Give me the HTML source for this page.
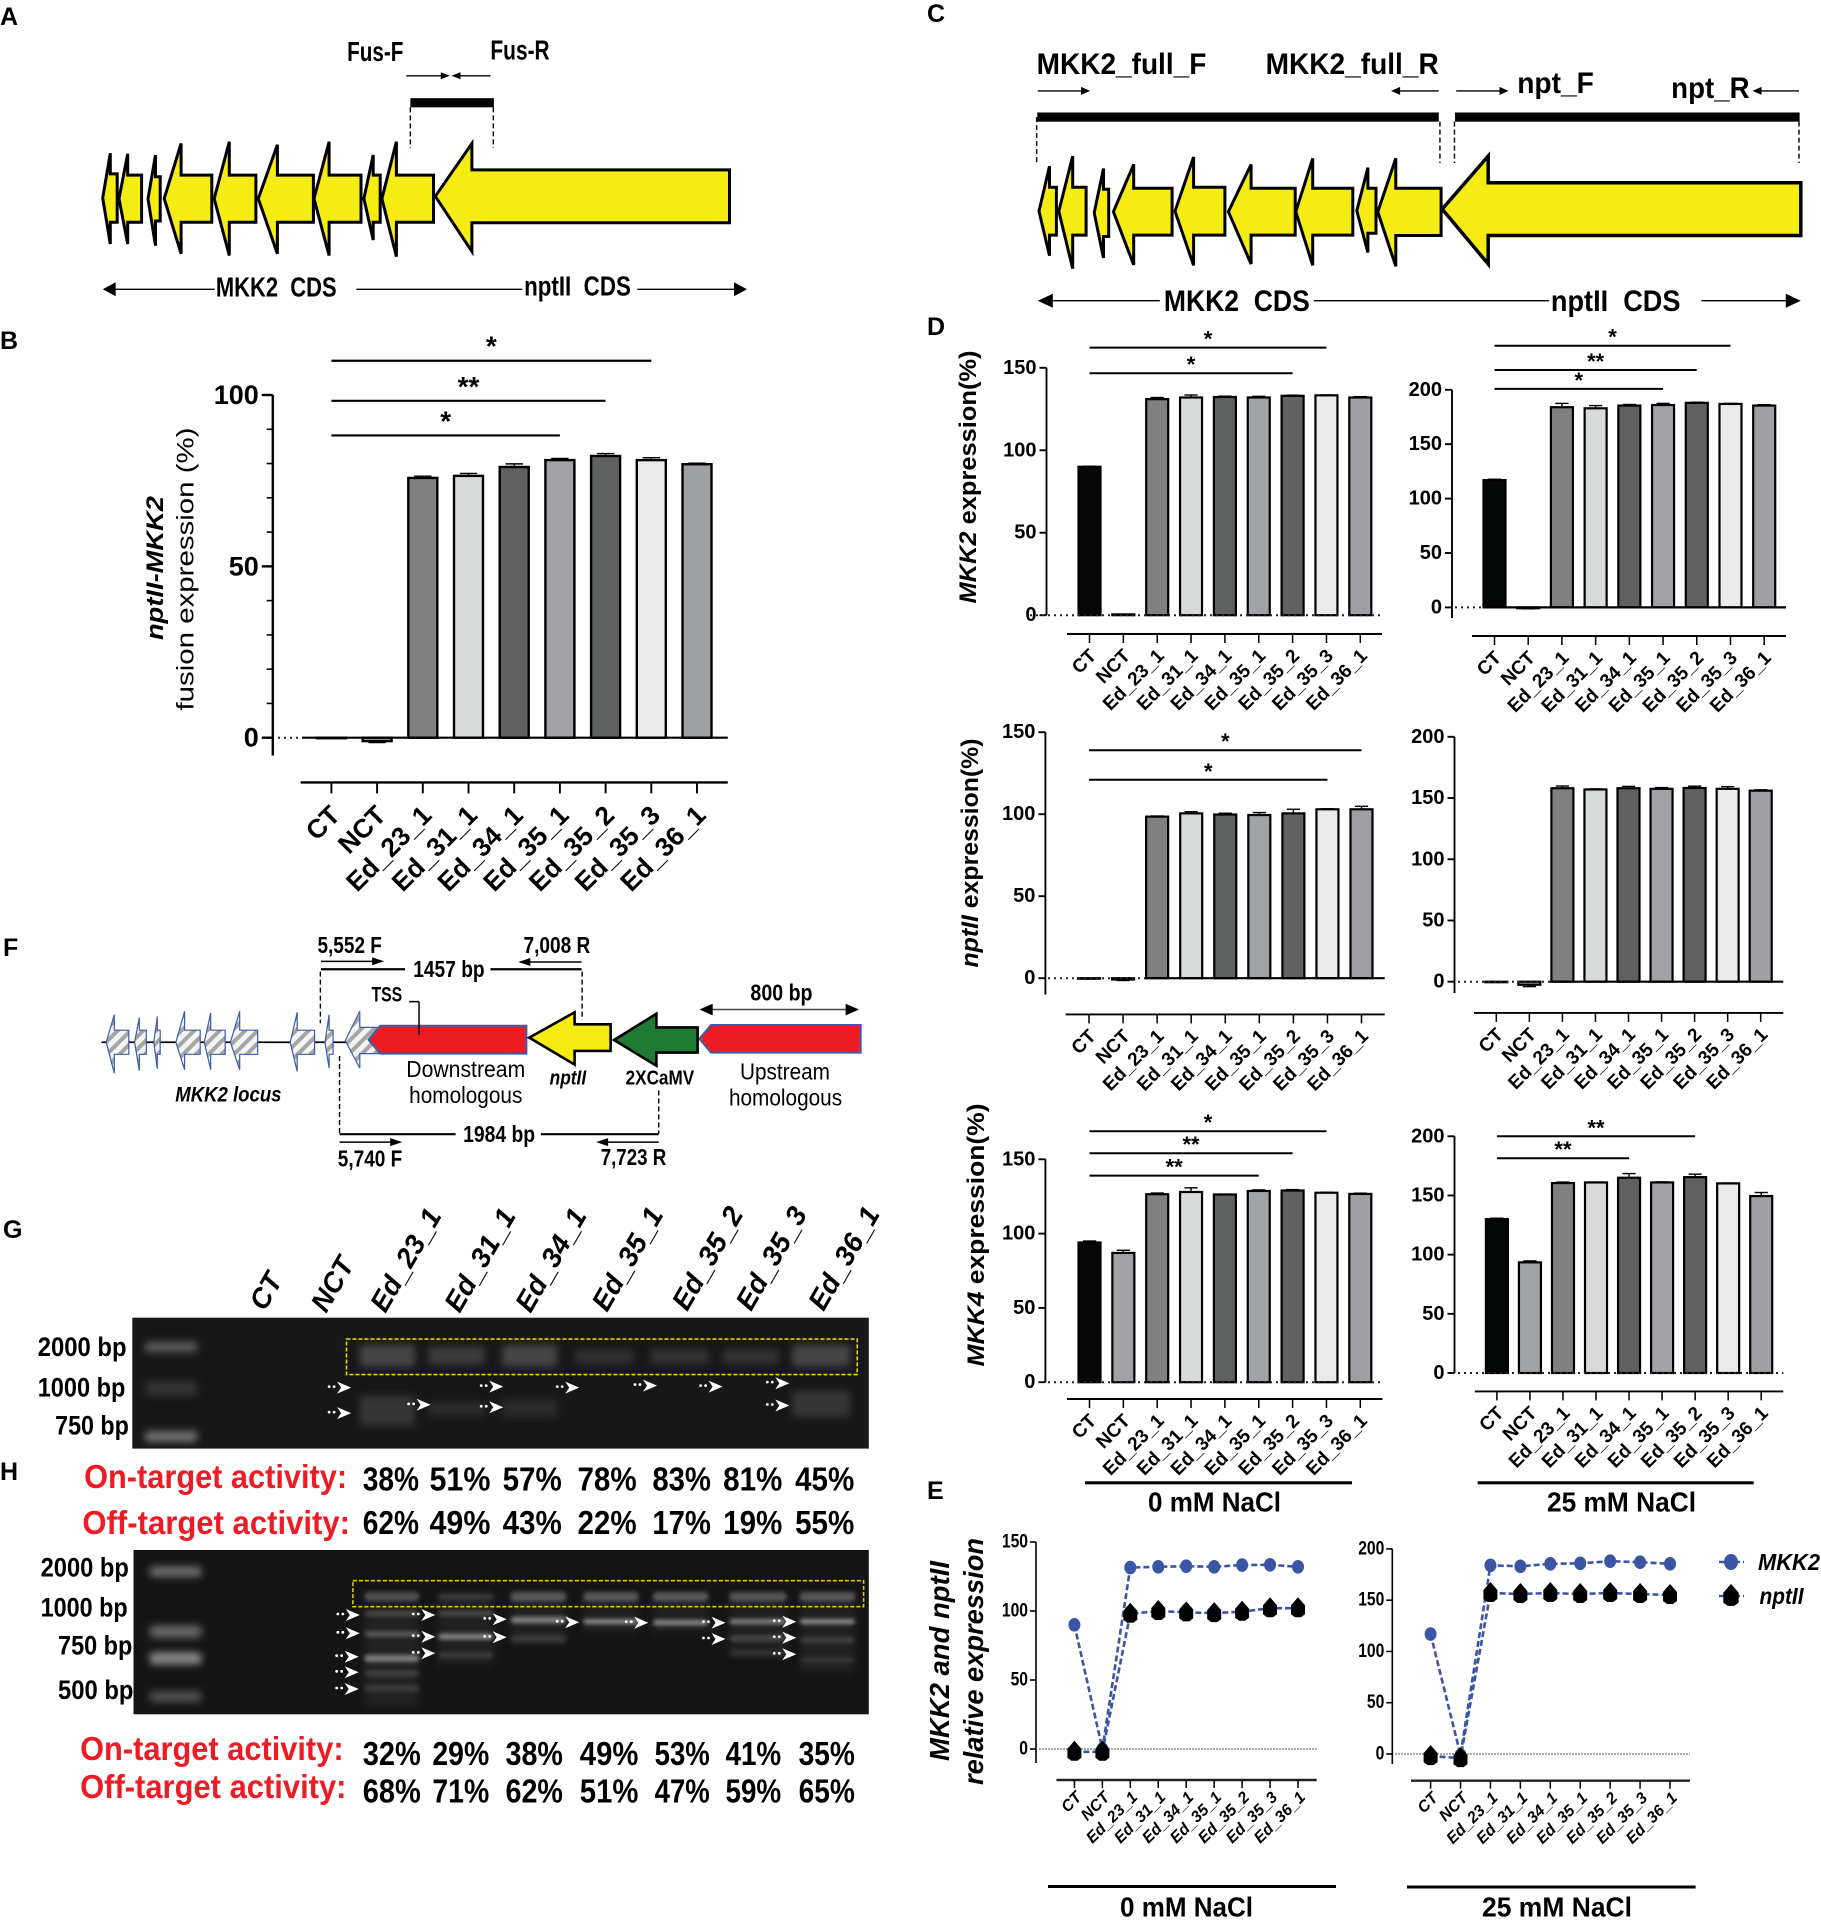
<!DOCTYPE html>
<html>
<head>
<meta charset="utf-8">
<title>Figure panels A-H</title>
<style>
html,body{margin:0;padding:0;background:#fff;}
svg{display:block;width:1821px;height:1920px;overflow:hidden;font-family:"Liberation Sans",Arial,sans-serif;}
text{white-space:pre;}
</style>
</head>
<body>
<svg id="figure" xmlns="http://www.w3.org/2000/svg" width="1821" height="1920" viewBox="0 0 1821 1920">
<defs>
<pattern id="hatch" patternUnits="userSpaceOnUse" width="9" height="9" patternTransform="rotate(45)">
<rect width="9" height="9" fill="#f4f4f4"></rect>
<rect width="4" height="9" fill="#a5a5a5"></rect>
</pattern>
<filter id="blur3" x="-30%" y="-150%" width="160%" height="400%"><feGaussianBlur stdDeviation="4"></feGaussianBlur></filter>
<filter id="blur2" x="-30%" y="-200%" width="160%" height="500%"><feGaussianBlur stdDeviation="2"></feGaussianBlur></filter>
</defs>
<rect x="0" y="0" width="1821" height="1920" fill="#ffffff"></rect>
</svg>
<script>
/* ---------- chart data ---------- */
const categories = ['CT','NCT','Ed_23_1','Ed_31_1','Ed_34_1','Ed_35_1','Ed_35_2','Ed_35_3','Ed_36_1'];
const barFills = ['#050707','#a0a2a5','#808080','#d8dad9','#5f6160','#a0a2a5','#606261','#e9eae9','#9ea0a3'];

const ticksB = [0,50,100];
const valuesB = [0,-1,75.8,76.4,79,81,82.2,81,79.8];
const errorsB = [0.1,0.4,0.5,0.7,0.9,0.5,0.7,0.7,0.3];
const sigEndB = [7,6,5];
const sigLevelB = [110,98.3,88.2];
const sigMarkB = ['*','**','*'];

const ticks150 = [0,50,100,150];
const ticks200 = [0,50,100,150,200];

const valuesMkk2Salt0 = [90,0.5,131,132,132.3,132,133,133.3,132];
const errorsMkk2Salt0 = [0.3,0,1,1.5,0.5,0.7,0.4,0.2,0.5];
const sigEndMkk2Salt0 = [7,6];
const sigLevelMkk2Salt0 = [162.2,146.7];
const sigMarkMkk2Salt0 = ['*','*'];

const valuesMkk2Salt25 = [117,-0.8,184,183,185.5,186,188,187,185.5];
const errorsMkk2Salt25 = [0.8,0.5,3.5,2.5,1,1.5,0.6,0.5,0.8];
const sigEndMkk2Salt25 = [7,6,5];
const sigLevelMkk2Salt25 = [240.5,218.2,200.8];
const sigMarkMkk2Salt25 = ['*','**','*'];

const valuesNptSalt0 = [-0.2,-0.8,98.5,100.5,99.8,99.5,100.5,103,103];
const errorsNptSalt0 = [0.3,0.6,0.4,1,0.8,1.5,2.5,0.3,1.8];
const sigEndNptSalt0 = [8,7];
const sigLevelNptSalt0 = [139,121];
const sigMarkNptSalt0 = ['*','*'];

const valuesNptSalt25 = [-0.3,-2.5,158,157,158,157.5,158.2,157.5,156];
const errorsNptSalt25 = [0.3,1.5,1.8,0.5,1.5,1,1.5,1.8,0.7];
const sigEndNptSalt25 = [];
const sigLevelNptSalt25 = [];
const sigMarkNptSalt25 = [];

const valuesMkk4Salt0 = [94,87,126.5,128,126.3,128.7,129,127.5,126.7];
const errorsMkk4Salt0 = [1,1.8,0.8,2.8,0.3,0.7,0.6,0.3,0.5];
const sigEndMkk4Salt0 = [7,6,5];
const sigLevelMkk4Salt0 = [168.9,154.1,139];
const sigMarkMkk4Salt0 = ['*','**','**'];

const valuesMkk4Salt25 = [130,93.5,160.5,161,165,161,165.5,160.2,149.5];
const errorsMkk4Salt25 = [0.8,1.2,0.8,0.3,3.5,0.5,2.5,0.3,3];
const sigEndMkk4Salt25 = [6,4];
const sigLevelMkk4Salt25 = [200,181.5];
const sigMarkMkk4Salt25 = ['**','**'];

const lineMkk2Salt0 = [90,0,131.5,132,132.5,132,133.3,133.5,132];
const lineNptSalt0 = [-2,-2,98,100,99,98.5,99.5,102,102];
const lineMkk2Salt25 = [117,-1,184,183,185.5,186,188,187,185.5];
const lineNptSalt25 = [-2,-4,157,156,157,156,157,156,155];

const onTargetG = ['38%','51%','57%','78%','83%','81%','45%'];
const offTargetG = ['62%','49%','43%','22%','17%','19%','55%'];
const onTargetH = ['32%','29%','38%','49%','53%','41%','35%'];
const offTargetH = ['68%','71%','62%','51%','47%','59%','65%'];

/* ---------- primitives ---------- */
const svg = document.getElementById('figure');
const NS = 'http://www.w3.org/2000/svg';
const Z1 = {ox:0,oy:0,fx:1.723,fy:1.742};
const Z2 = {ox:910,oy:0,fx:1.721,fy:2.178};
const Z4 = {ox:910,oy:1480,fx:1.721,fy:3.02};
const Z5 = {ox:0,oy:920,fx:1.723,fy:2.904};
const Z6 = {ox:0,oy:1440,fx:1.723,fy:3.0};
const zx = (Z,x) => Z.ox + x / Z.fx;
const zy = (Z,y) => Z.oy + y / Z.fy;

function shape(tag, attrs, name) {
  const el = document.createElementNS(NS, tag);
  for (const k in attrs) el.setAttribute(k, attrs[k]);
  
  
  svg.appendChild(el);
  return el;
}
function line(x1,y1,x2,y2,stroke,width,name,dash) {
  const a = {x1:x1,y1:y1,x2:x2,y2:y2,stroke:stroke,'stroke-width':width};
  if (dash) a['stroke-dasharray'] = dash;
  return shape('line', a, name);
}
function poly(points, fill, stroke, width, name) {
  const a = {points:points.map(p => p[0].toFixed(1)+','+p[1].toFixed(1)).join(' '), fill:fill};
  if (stroke) { a.stroke = stroke; a['stroke-width'] = width; a['stroke-linejoin'] = 'miter'; a['stroke-miterlimit'] = 4; }
  return shape('polygon', a, name);
}
function label(x,y,parts,o,name) {
  const a = {x:x,y:y,'font-size':o.size,'font-weight':o.weight||'bold',fill:o.fill||'#000','text-anchor':o.anchor||'start'};
  if (!o.base) a['dominant-baseline'] = 'central';
  if (o.len) { a.textLength = o.len; a.lengthAdjust = 'spacingAndGlyphs'; }
  if (o.rotate) a.transform = 'rotate('+o.rotate+' '+x+' '+y+')';
  if (o.italic) a['font-style'] = 'italic';
  const el = shape('text', a, name);
  if (typeof parts === 'string') { el.textContent = parts; }
  else parts.forEach(function(p) {
    const t = document.createElementNS(NS,'tspan');
    if (p[1]) t.setAttribute('font-style','italic');
    t.textContent = p[0];
    el.appendChild(t);
  });
  return el;
}
/* text fitted between two zoom-space x positions */
function zt(Z,x0,x1,yc,str,size,name,o) {
  const opt = Object.assign({size:size,len:(x1-x0)/Z.fx}, o||{});
  return label(zx(Z,x0), zy(Z,yc), str, opt, name);
}
function panelLetter(ch,x,yc) {
  return label(x,yc,ch,{size:25},'panel-label-'+ch.toLowerCase());
}
function gene(Z,tip,sh,end,bt,bb,ht,hb,fill,stroke,w,name) {
  const mid = (bt+bb)/2;
  const pts = [[tip,mid],[sh,ht],[sh,bt],[end,bt],[end,bb],[sh,bb],[sh,hb]].map(p => [zx(Z,p[0]),zy(Z,p[1])]);
  return poly(pts,fill,stroke,w,name);
}
function zArrow(Z,x1,x2,y,headL,headH,w,name,col) {
  const yy = zy(Z,y), a = zx(Z,x1), b = zx(Z,x2), d = b > a ? 1 : -1;
  line(a,yy,b - d*headL*0.6,yy,col||'#000',w,name+'-shaft');
  poly([[b,yy],[b-d*headL,yy-headH],[b-d*headL,yy+headH]],'#000',null,0,name+'-head');
}
function zRect(Z,x0,x1,y0,y1,fill,name) {
  return shape('rect',{x:zx(Z,x0),y:zy(Z,y0),width:(x1-x0)/Z.fx,height:(y1-y0)/Z.fy,fill:fill},name);
}
function zDash(Z,x,y0,y1,name,w) {
  return line(zx(Z,x),zy(Z,y0),zx(Z,x),zy(Z,y1),'#000',w||1.4,name,'5 3');
}

/* ---------- panels A and C: gene diagrams ---------- */
const YEL = '#f5ec13';
panelLetter('A',0,17);
zt(Z1,598,695,90,'Fus-F',28,'primer-label-fus-f');
zt(Z1,845,947,87,'Fus-R',28,'primer-label-fus-r');
zArrow(Z1,700,775,132,9,3.5,1.4,'primer-arrow-fus-f');
zArrow(Z1,845,778,132,9,3.5,1.4,'primer-arrow-fus-r');
zRect(Z1,707,851,171,187,'#000','amplicon-bar-a');
zDash(Z1,707,187,258,'amplicon-left-guide');
zDash(Z1,850,187,258,'amplicon-right-guide');
gene(Z1,177,190,202,303,387,267,425,YEL,'#000',3,'mkk2-exon-1');
gene(Z1,205,220,244,305,387,268,425,YEL,'#000',3,'mkk2-exon-2');
gene(Z1,255,268,276,308,385,270,428,YEL,'#000',3,'mkk2-exon-3');
gene(Z1,283,312,365,305,387,250,442,YEL,'#000',3,'mkk2-exon-4');
gene(Z1,369,395,441,305,387,247,445,YEL,'#000',3,'mkk2-exon-5');
gene(Z1,445,478,540,305,387,252,442,YEL,'#000',3,'mkk2-exon-6');
gene(Z1,541,567,622,305,387,247,445,YEL,'#000',3,'mkk2-exon-7');
gene(Z1,627,643,655,305,387,270,418,YEL,'#000',3,'mkk2-exon-8');
gene(Z1,658,683,747,305,387,247,447,YEL,'#000',3,'mkk2-exon-9');
gene(Z1,750,813,1257,296,388,250,438,YEL,'#000',3,'nptii-cds-arrow');
zArrow(Z1,370,177,504,13,7,1.3,'mkk2-cds-span');
zt(Z1,372,580,500,'MKK2  CDS',28,'mkk2-cds-label');
line(zx(Z1,614),zy(Z1,504),zx(Z1,900),zy(Z1,504),'#000',1.3,'cds-connector');
zt(Z1,903,1087,498,'nptII  CDS',28,'nptii-cds-label');
zArrow(Z1,1098,1287,504,13,7,1.3,'nptii-cds-span');

panelLetter('B',0,341);
panelLetter('C',927,14);
zt(Z2,218,510,140,'MKK2_full_F',30,'primer-label-mkk2-full-f');
zt(Z2,612,910,140,'MKK2_full_R',30,'primer-label-mkk2-full-r');
zt(Z2,1045,1177,182,'npt_F',30,'primer-label-npt-f');
zt(Z2,1310,1445,193,'npt_R',30,'primer-label-npt-r');
zArrow(Z2,220,310,198,9,4,1.4,'primer-arrow-mkk2-f');
zArrow(Z2,910,828,198,9,4,1.4,'primer-arrow-mkk2-r');
zArrow(Z2,940,1030,198,9,4,1.4,'primer-arrow-npt-f');
zArrow(Z2,1530,1450,198,9,4,1.4,'primer-arrow-npt-r');
zRect(Z2,219,910,245,265,'#000','amplicon-bar-mkk2');
zRect(Z2,938,1531,245,265,'#000','amplicon-bar-npt');
zDash(Z2,218,255,355,'guide-mkk2-left');
zDash(Z2,912,265,355,'guide-mkk2-right');
zDash(Z2,937,265,355,'guide-npt-left');
zDash(Z2,1530,265,355,'guide-npt-right');
gene(Z2,222,240,252,408,512,362,557,YEL,'#000',3,'mkk2-exon-1');
gene(Z2,256,280,303,408,512,340,585,YEL,'#000',3,'mkk2-exon-2');
gene(Z2,317,333,342,412,515,367,562,YEL,'#000',3,'mkk2-exon-3');
gene(Z2,350,385,451,410,512,358,577,YEL,'#000',3,'mkk2-exon-4');
gene(Z2,456,488,542,408,512,342,578,YEL,'#000',3,'mkk2-exon-5');
gene(Z2,548,587,663,410,512,358,575,YEL,'#000',3,'mkk2-exon-6');
gene(Z2,664,693,762,410,512,345,578,YEL,'#000',3,'mkk2-exon-7');
gene(Z2,769,788,802,410,508,365,550,YEL,'#000',3,'mkk2-exon-8');
gene(Z2,805,836,914,410,513,345,580,YEL,'#000',3,'mkk2-exon-9');
gene(Z2,916,995,1533,398,513,340,575,YEL,'#000',3.5,'nptii-cds-arrow');
zArrow(Z2,430,220,655,15,7,1.4,'mkk2-cds-span');
zt(Z2,437,688,657,'MKK2  CDS',30,'mkk2-cds-label');
line(zx(Z2,695),zy(Z2,655),zx(Z2,1100),zy(Z2,655),'#000',1.4,'cds-connector');
zt(Z2,1103,1326,657,'nptII  CDS',30,'nptii-cds-label');
zArrow(Z2,1362,1533,655,15,7,1.4,'nptii-cds-span');
panelLetter('D',927,327);
panelLetter('E',927,1491);

/* ---------- bar charts ---------- */
function drawBarChart(c, values, errors, ticks, sigEnd, sigLevel, sigMark) {
  const n = categories.length;
  const xScale = i => c.x0 + i * (c.xN - c.x0) / (n - 1);
  const yScale = v => c.yZero - v * (c.yZero - c.yTop) / c.vTop;
  const P = c.name;
  line(c.axisX, c.yTop, c.axisX, c.axisBottom, '#000', c.axisW, P+'-y-axis');
  ticks.forEach(function(t) {
    line(c.axisX - c.tickL, yScale(t), c.axisX, yScale(t), '#000', c.axisW, P+'-y-tick-'+t);
    label(c.axisX - c.tickL - 3, yScale(t), String(t), {size:c.tickSize,anchor:'end'}, P+'-y-tick-label-'+t);
  });
  if (c.minor) {
    for (let v = 0; v <= c.vTop; v += c.minor) {
      if (ticks.indexOf(v) < 0) line(c.axisX - c.tickL*0.55, yScale(v), c.axisX, yScale(v), '#000', 1.6, P+'-y-minor-tick');
    }
  }
  values.forEach(function(v,i) {
    const x = xScale(i), top = yScale(Math.max(v,0)), bot = yScale(Math.min(v,0));
    const tip = v >= 0 ? yScale(v + errors[i]) : yScale(v - errors[i]);
    line(x, tip, x, v >= 0 ? top : bot, '#000', 1.4, P+'-error-bar-'+categories[i]);
    line(x - c.barW*0.3, tip, x + c.barW*0.3, tip, '#000', 1.4, P+'-error-cap-'+categories[i]);
    shape('rect',{x:x-c.barW/2,y:top,width:c.barW,height:Math.max(bot-top,0.5),fill:barFills[i],stroke:'#000','stroke-width':c.barStroke},P+'-bar-'+categories[i]);
  });
  const zy0 = yScale(0);
  if (c.solidFrom) {
    line(c.zeroL, zy0, c.solidFrom, zy0, '#222', 2, P+'-zero-dotted', '2 4');
    line(c.solidFrom, zy0, c.xAxisR, zy0, '#000', 2.2, P+'-zero-line');
  } else {
    line(c.zeroL, zy0, c.xAxisR, zy0, '#222', 2, P+'-zero-dotted', '2 4');
  }
  line(c.xAxisL, c.xAxisY, c.xAxisR, c.xAxisY, '#000', c.axisW, P+'-x-axis');
  categories.forEach(function(cat,i) {
    const x = xScale(i);
    line(x, c.xAxisY, x, c.xAxisY + c.xTick, '#000', c.axisW*0.8, P+'-x-tick-'+cat);
    const lx = x + c.labelDx, ly = c.xAxisY + c.labelDy;
    label(lx, ly, cat, {size:c.labelSize,anchor:'end',rotate:-45}, P+'-x-label-'+cat);
  });
  sigEnd.forEach(function(e,k) {
    const ly = yScale(sigLevel[k]);
    line(xScale(0), ly, xScale(e), ly, '#000', c.sigW, P+'-significance-line-'+k);
    label((xScale(0)+xScale(e))/2, ly - c.starLift, sigMark[k], {size:c.starSize,anchor:'middle',base:true}, P+'-significance-mark-'+k);
  });
}

drawBarChart({name:'fusion-chart',axisX:272.8,yTop:395,yZero:737.7,vTop:100,axisBottom:755.5,axisW:2.4,tickL:11,tickSize:27,minor:10,
  barW:29,barStroke:2.4,x0:331.4,xN:697,xAxisL:300.6,xAxisR:727.8,xAxisY:782.4,xTick:11,labelSize:26.5,labelDx:4,labelDy:28,
  zeroL:278,solidFrom:302,sigW:2.2,starSize:28,starLift:5},valuesB,errorsB,ticksB,sigEndB,sigLevelB,sigMarkB);
label(155,568,[['nptII-MKK2',1]],{size:24,anchor:'middle',rotate:-90,len:144},'y-axis-title-fusion-gene');
label(186,569,'fusion expression (%)',{size:24,weight:'normal',anchor:'middle',rotate:-90,len:283},'y-axis-title-fusion');

const dBase = {axisW:1.9,tickL:7,tickSize:20,barW:22,barStroke:2.2,xTick:9,labelSize:19,labelDx:4,labelDy:19,sigW:2,starSize:22,starLift:1};

drawBarChart(Object.assign({},dBase,{name:'mkk2-0mM-chart',axisX:1046.5,yTop:367.8,yZero:615.2,vTop:150,axisBottom:615.2,x0:1089.5,xN:1360.3,xAxisL:1067,xAxisR:1382,xAxisY:634,zeroL:1030}),
  valuesMkk2Salt0,errorsMkk2Salt0,ticks150,sigEndMkk2Salt0,sigLevelMkk2Salt0,sigMarkMkk2Salt0);
drawBarChart(Object.assign({},dBase,{name:'mkk2-25mM-chart',axisX:1452,yTop:389.8,yZero:607.4,vTop:200,axisBottom:618,x0:1494.5,xN:1764.2,xAxisL:1472,xAxisR:1786,xAxisY:636,zeroL:1455,solidFrom:1483}),
  valuesMkk2Salt25,errorsMkk2Salt25,ticks200,sigEndMkk2Salt25,sigLevelMkk2Salt25,sigMarkMkk2Salt25);
drawBarChart(Object.assign({},dBase,{name:'nptii-0mM-chart',axisX:1045.4,yTop:732.2,yZero:978.2,vTop:150,axisBottom:994.5,x0:1089,xN:1361.5,xAxisL:1065.7,xAxisR:1384.7,xAxisY:1014.4,zeroL:1048,solidFrom:1145}),
  valuesNptSalt0,errorsNptSalt0,ticks150,sigEndNptSalt0,sigLevelNptSalt0,sigMarkNptSalt0);
drawBarChart(Object.assign({},dBase,{name:'nptii-25mM-chart',axisX:1454.5,yTop:736.8,yZero:981.7,vTop:200,axisBottom:993,x0:1496.3,xN:1760.7,xAxisL:1474,xAxisR:1783.3,xAxisY:1012.9,zeroL:1458,solidFrom:1550}),
  valuesNptSalt25,errorsNptSalt25,ticks200,sigEndNptSalt25,sigLevelNptSalt25,sigMarkNptSalt25);
drawBarChart(Object.assign({},dBase,{name:'mkk4-0mM-chart',axisX:1045.4,yTop:1159.3,yZero:1382.2,vTop:150,axisBottom:1382.2,x0:1089.5,xN:1360.3,xAxisL:1067,xAxisR:1382.4,xAxisY:1399,zeroL:1048}),
  valuesMkk4Salt0,errorsMkk4Salt0,ticks150,sigEndMkk4Salt0,sigLevelMkk4Salt0,sigMarkMkk4Salt0);
drawBarChart(Object.assign({},dBase,{name:'mkk4-25mM-chart',axisX:1454.5,yTop:1136.3,yZero:1373,vTop:200,axisBottom:1373,x0:1496.9,xN:1761.2,xAxisL:1474.8,xAxisR:1783.3,xAxisY:1391.4,zeroL:1458}),
  valuesMkk4Salt25,errorsMkk4Salt25,ticks200,sigEndMkk4Salt25,sigLevelMkk4Salt25,sigMarkMkk4Salt25);

label(968,477,[['MKK2',1],[' expression(%)',0]],{size:24,weight:'bold',anchor:'middle',rotate:-90,len:253},'y-axis-title-mkk2');
label(970,853,[['nptII',1],[' expression(%)',0]],{size:24,weight:'bold',anchor:'middle',rotate:-90,len:229},'y-axis-title-nptii');
label(976,1235,[['MKK4',1],[' expression(%)',0]],{size:24,weight:'bold',anchor:'middle',rotate:-90,len:263},'y-axis-title-mkk4');

shape('rect',{x:1085,y:1481.3,width:267,height:3,fill:'#000'},'group-bracket-0mM');
shape('rect',{x:1477.7,y:1481.3,width:276,height:3,fill:'#000'},'group-bracket-25mM');
label(1148,1502,'0 mM NaCl',{size:28,len:133},'group-label-0mM');
label(1547,1502,'25 mM NaCl',{size:28,len:149},'group-label-25mM');

/* ---------- line charts (panel E) ---------- */
const LINE_BLUE = '#3c54a4';
const nptMark = [[0,-11],[7,-3],[7,6],[3,9],[-3,9],[-7,6],[-7,-3]];
function drawLineChart(c, mkk2, npt, ticks) {
  const n = categories.length;
  const xScale = i => c.x0 + i * (c.xN - c.x0) / (n - 1);
  const yScale = v => c.yZero - v * (c.yZero - c.yTop) / c.vTop;
  const P = c.name;
  line(c.axisX, c.yTop, c.axisX, c.axisBottom, '#000', 1.6, P+'-y-axis');
  ticks.forEach(function(t) {
    line(c.axisX - 6, yScale(t), c.axisX, yScale(t), '#000', 1.6, P+'-y-tick-'+t);
    label(c.axisX - 8, yScale(t), String(t), {size:19,anchor:'end',len:String(t).length*8.7}, P+'-y-tick-label-'+t);
  });
  line(c.zeroL, yScale(0), c.xAxisR, yScale(0), '#777', 1.3, P+'-zero-line', '2 1');
  [mkk2, npt].forEach(function(series, s) {
    const pts = series.map((v,i) => xScale(i).toFixed(1)+','+yScale(v).toFixed(1)).join(' ');
    shape('polyline',{points:pts,fill:'none',stroke:LINE_BLUE,'stroke-width':2.6,'stroke-dasharray':'6 3'},P+(s?'-nptii-line':'-mkk2-line'));
  });
  mkk2.forEach(function(v,i) {
    shape('ellipse',{cx:xScale(i),cy:yScale(v),rx:6,ry:6.8,fill:LINE_BLUE},P+'-mkk2-point-'+categories[i]);
  });
  npt.forEach(function(v,i) {
    const x = xScale(i), y = yScale(v);
    poly(nptMark.map(p => [x+p[0], y+p[1]]),'#000',null,0,P+'-nptii-point-'+categories[i]);
  });
  line(c.xAxisL, c.xAxisY, c.xAxisR, c.xAxisY, '#222', 2.4, P+'-x-axis');
  categories.forEach(function(cat,i) {
    const x = xScale(i);
    line(x, c.xAxisY, x, c.xAxisY + 8, '#000', 1.5, P+'-x-tick-'+cat);
    label(x + 5, c.xAxisY + 15, cat, {size:16,anchor:'end',rotate:-45,italic:true}, P+'-x-label-'+cat);
  });
}
drawLineChart({name:'expression-0mM-chart',axisX:1036,yTop:1542,yZero:1749,vTop:150,axisBottom:1763,x0:1074.4,xN:1298,xAxisL:1056.4,xAxisR:1316.7,xAxisY:1780,zeroL:1039},lineMkk2Salt0,lineNptSalt0,ticks150);
drawLineChart({name:'expression-25mM-chart',axisX:1392.3,yTop:1548.9,yZero:1754,vTop:200,axisBottom:1764,x0:1430.6,xN:1670,xAxisL:1411,xAxisR:1690,xAxisY:1780.7,zeroL:1395},lineMkk2Salt25,lineNptSalt25,ticks200);
label(939,1661,[['MKK2 and nptII',1]],{size:28,anchor:'middle',rotate:-90,len:200},'y-axis-title-relative-line-1');
label(973,1661.5,[['relative expression',1]],{size:28,anchor:'middle',rotate:-90,len:247},'y-axis-title-relative-line-2');
shape('rect',{x:1048,y:1885,width:288,height:3,fill:'#000'},'group-bracket-e-0mM');
shape('rect',{x:1407,y:1885.5,width:288.6,height:3,fill:'#000'},'group-bracket-e-25mM');
label(1120,1907,'0 mM NaCl',{size:28,len:133},'group-label-e-0mM');
label(1482,1907,'25 mM NaCl',{size:28,len:150},'group-label-e-25mM');
line(1719,1562,1744,1562,LINE_BLUE,2.6,'legend-line-mkk2','5 3');
shape('ellipse',{cx:1731,cy:1562,rx:7,ry:8,fill:LINE_BLUE},'legend-marker-mkk2');
label(1758,1562,[['MKK2',1]],{size:23,len:62},'legend-label-mkk2');
line(1719,1596,1744,1596,LINE_BLUE,2.6,'legend-line-nptii','5 3');
poly(nptMark.map(p => [1731+p[0]*1.1, 1596+p[1]*1.1]),'#000',null,0,'legend-marker-nptii');
label(1759.5,1596,[['nptII',1]],{size:23,len:44},'legend-label-nptii');

/* ---------- panel F: construct map ---------- */
panelLetter('F',3,948);
line(zx(Z5,175),zy(Z5,355),zx(Z5,600),zy(Z5,355),'#000',1.8,'mkk2-locus-backbone');
const NAVY = '#3b5ea8';
gene(Z5,183,197,222,320,390,275,445,'url(#hatch)',NAVY,1.2,'locus-exon-1');
gene(Z5,232,240,252,320,390,283,438,'url(#hatch)',NAVY,1.2,'locus-exon-2');
gene(Z5,265,271,276,320,390,280,432,'url(#hatch)',NAVY,1.2,'locus-exon-3');
gene(Z5,303,318,345,320,390,265,435,'url(#hatch)',NAVY,1.2,'locus-exon-4');
gene(Z5,352,363,388,320,390,270,435,'url(#hatch)',NAVY,1.2,'locus-exon-5');
gene(Z5,397,413,444,320,390,265,435,'url(#hatch)',NAVY,1.2,'locus-exon-6');
gene(Z5,500,512,542,320,390,268,440,'url(#hatch)',NAVY,1.2,'locus-exon-7');
gene(Z5,560,567,574,320,390,275,430,'url(#hatch)',NAVY,1.2,'locus-exon-8');
gene(Z5,595,620,660,312,388,265,430,'url(#hatch)',NAVY,1.2,'locus-exon-9');
gene(Z5,635,655,907,307,388,307,388,'#ed1c24',NAVY,2,'downstream-homology-arm');
gene(Z5,1205,1225,1483,305,385,305,385,'#ed1c24',NAVY,2,'upstream-homology-arm');
gene(Z5,912,990,1052,303,380,268,420,YEL,'#000',2.6,'nptii-cassette');
gene(Z5,1058,1131,1202,312,385,272,423,'#1e7b34','#000',2.6,'camv-promoter');
zt(Z5,547,658,72,'5,552 F',23,'primer-label-5552f');
zt(Z5,902,1017,72,'7,008 R',23,'primer-label-7008r');
zArrow(Z5,553,662,120,12,4,1.5,'primer-arrow-5552f');
zArrow(Z5,1002,893,122,12,4,1.5,'primer-arrow-7008r');
line(zx(Z5,553),zy(Z5,143),zx(Z5,698),zy(Z5,143),'#000',2.2,'amplicon-1457-left');
line(zx(Z5,845),zy(Z5,143),zx(Z5,1002),zy(Z5,143),'#000',2.2,'amplicon-1457-right');
zt(Z5,712,835,142,'1457 bp',23,'amplicon-1457-label');
zDash(Z5,552,150,300,'guide-5552f');
zDash(Z5,1003,150,290,'guide-7008r');
zt(Z5,640,693,218,'TSS',21,'tss-label');
line(zx(Z5,705),zy(Z5,237),zx(Z5,722),zy(Z5,237),'#000',1.5,'tss-marker-top');
line(zx(Z5,722),zy(Z5,237),zx(Z5,722),zy(Z5,333),'#000',1.5,'tss-marker-stem');
zt(Z5,700,905,433,'Downstream',23,'downstream-label-line-1',{weight:'normal'});
zt(Z5,705,900,508,'homologous',23,'downstream-label-line-2',{weight:'normal'});
zt(Z5,947,1010,460,'nptII',20,'nptii-label',{italic:true});
zt(Z5,1078,1196,460,'2XCaMV',20,'camv-label');
zt(Z5,1275,1430,440,'Upstream',23,'upstream-label-line-1',{weight:'normal'});
zt(Z5,1256,1451,515,'homologous',23,'upstream-label-line-2',{weight:'normal'});
zt(Z5,302,485,508,'MKK2 locus',21,'mkk2-locus-label',{italic:true});
zt(Z5,1293,1400,210,'800 bp',23,'arm-length-label');
line(zx(Z5,1215),zy(Z5,260),zx(Z5,1470),zy(Z5,260),'#444',1.5,'arm-length-span');
poly([[zx(Z5,1205),zy(Z5,260)],[zx(Z5,1228),zy(Z5,243)],[zx(Z5,1228),zy(Z5,277)]],'#000',null,0,'arm-length-head-left');
poly([[zx(Z5,1480),zy(Z5,260)],[zx(Z5,1457),zy(Z5,243)],[zx(Z5,1457),zy(Z5,277)]],'#000',null,0,'arm-length-head-right');
zDash(Z5,585,395,625,'guide-5740f');
zDash(Z5,1135,495,620,'guide-7723r');
line(zx(Z5,585),zy(Z5,622),zx(Z5,785),zy(Z5,622),'#000',2.2,'amplicon-1984-left');
line(zx(Z5,932),zy(Z5,622),zx(Z5,1135),zy(Z5,622),'#000',2.2,'amplicon-1984-right');
zt(Z5,798,922,622,'1984 bp',23,'amplicon-1984-label');
zArrow(Z5,585,693,645,12,4,1.5,'primer-arrow-5740f');
zArrow(Z5,1135,1027,645,12,4,1.5,'primer-arrow-7723r');
zt(Z5,582,693,692,'5,740 F',23,'primer-label-5740f');
zt(Z5,1035,1148,688,'7,723 R',23,'primer-label-7723r');

/* ---------- gels ---------- */
function band(Z,x0,x1,yc,h,op,name,sharp) {
  const el = shape('rect',{x:zx(Z,x0),y:zy(Z,yc)-h/2,width:(x1-x0)/Z.fx,height:h,fill:'#fff','fill-opacity':op,rx:3,filter:sharp?'url(#blur2)':'url(#blur3)'},name);
  return el;
}
function gelArrow(Z,tx,ty,name) {
  const x = zx(Z,tx), y = zy(Z,ty);
  poly([[x,y],[x-14,y-6],[x-10,y],[x-14,y+6]],'#fff',null,0,name+'-head');
  shape('circle',{cx:x-17,cy:y-1,r:1.4,fill:'#fff'},name+'-dot');
  shape('circle',{cx:x-22,cy:y-1,r:1.4,fill:'#fff'},name+'-dot');
}
const ITAL = {size:28,italic:true,rotate:-60};
panelLetter('G',3,1230);
panelLetter('H',0,1472);
label(zx(Z5,442),zy(Z5,1125),'CT',ITAL,'lane-label-CT');
label(zx(Z5,548),zy(Z5,1130),'NCT',ITAL,'lane-label-NCT');
label(zx(Z5,650),zy(Z5,1130),'Ed_23_1',ITAL,'lane-label-Ed_23_1');
label(zx(Z5,778),zy(Z5,1130),'Ed_31_1',ITAL,'lane-label-Ed_31_1');
label(zx(Z5,900),zy(Z5,1130),'Ed_34_1',ITAL,'lane-label-Ed_34_1');
label(zx(Z5,1032),zy(Z5,1127),'Ed_35_1',ITAL,'lane-label-Ed_35_1');
label(zx(Z5,1170),zy(Z5,1125),'Ed_35_2',ITAL,'lane-label-Ed_35_2');
label(zx(Z5,1280),zy(Z5,1125),'Ed_35_3',ITAL,'lane-label-Ed_35_3');
label(zx(Z5,1405),zy(Z5,1125),'Ed_36_1',ITAL,'lane-label-Ed_36_1');

shape('rect',{x:132.3,y:1317.7,width:736.5,height:130.9,fill:'#171717'},'gel-image-g');
band(Z5,250,340,1240,10,0.3,'ladder-band-2000');
band(Z5,250,340,1360,14,0.12,'ladder-band-1000');
band(Z5,250,340,1500,10,0.42,'ladder-band-750');
band(Z5,620,715,1265,22,0.2,'lane-band-upper');
band(Z5,738,835,1265,18,0.16,'lane-band-upper');
band(Z5,865,960,1265,22,0.2,'lane-band-upper');
band(Z5,990,1092,1268,14,0.11,'lane-band-upper');
band(Z5,1120,1222,1268,14,0.12,'lane-band-upper');
band(Z5,1245,1342,1268,14,0.12,'lane-band-upper');
band(Z5,1365,1465,1265,22,0.2,'lane-band-upper');
band(Z5,620,715,1425,30,0.13,'lane-band-lower');
band(Z5,738,835,1420,14,0.09,'lane-band-lower');
band(Z5,865,960,1418,18,0.09,'lane-band-lower');
band(Z5,1365,1465,1405,26,0.13,'lane-band-lower');
shape('rect',{x:zx(Z5,597),y:zy(Z5,1217),width:880/1.723,height:103/2.904,fill:'none',stroke:'#e5d400','stroke-width':1.6,'stroke-dasharray':'4 2'},'on-target-highlight-g');
gelArrow(Z5,605,1358,'gel-arrow-g');
gelArrow(Z5,605,1432,'gel-arrow-g');
gelArrow(Z5,742,1408,'gel-arrow-g');
gelArrow(Z5,867,1355,'gel-arrow-g');
gelArrow(Z5,867,1415,'gel-arrow-g');
gelArrow(Z5,998,1358,'gel-arrow-g');
gelArrow(Z5,1132,1352,'gel-arrow-g');
gelArrow(Z5,1245,1355,'gel-arrow-g');
gelArrow(Z5,1360,1345,'gel-arrow-g');
gelArrow(Z5,1360,1410,'gel-arrow-g');
zt(Z5,65,218,1240,'2000 bp',27,'gel-g-size-2000');
zt(Z5,65,216,1357,'1000 bp',27,'gel-g-size-1000');
zt(Z5,95,222,1468,'750 bp',27,'gel-g-size-750');

const pctColsTop = [[625,722],[740,845],[866,968],[995,1097],[1124,1225],[1246,1348],[1370,1472]];
const pctColsBottom = [[625,725],[745,843],[871,970],[999,1100],[1128,1223],[1250,1346],[1376,1473]];
function pctRow(vals, cols, yc, name) {
  vals.forEach(function(v,i) {
    zt(Z6,cols[i][0],cols[i][1],yc,v,33,name+'-'+i);
  });
}
zt(Z6,145,598,110,'On-target activity:',33,'on-target-label-g',{fill:'#ed1c24'});
pctRow(onTargetG,pctColsTop,117,'on-target-value-g');
zt(Z6,142,603,247,'Off-target activity:',33,'off-target-label-g',{fill:'#ed1c24'});
pctRow(offTargetG,pctColsTop,247,'off-target-value-g');

shape('rect',{x:133.5,y:1550,width:735.3,height:164.3,fill:'#141414'},'gel-image-h');
band(Z6,258,347,395,10,0.4,'ladder-band-2000');
band(Z6,258,347,575,12,0.36,'ladder-band-1000');
band(Z6,258,347,655,12,0.5,'ladder-band-750');
band(Z6,258,347,770,10,0.28,'ladder-band-500');
band(Z6,628,722,650,100,0.06,'lane-smear-h');
band(Z6,755,850,570,70,0.05,'lane-smear-h');
band(Z6,880,975,530,50,0.05,'lane-smear-h');
band(Z6,1005,1100,520,40,0.05,'lane-smear-h');
band(Z6,1125,1220,520,40,0.05,'lane-smear-h');
band(Z6,1257,1355,560,60,0.05,'lane-smear-h');
band(Z6,1378,1473,580,80,0.05,'lane-smear-h');
band(Z6,628,722,470,9,0.26,'lane-band-h',true);
band(Z6,755,850,470,7,0.12,'lane-band-h',true);
band(Z6,880,975,470,9,0.26,'lane-band-h',true);
band(Z6,1005,1100,470,9,0.26,'lane-band-h',true);
band(Z6,1125,1220,470,9,0.26,'lane-band-h',true);
band(Z6,1257,1355,470,9,0.26,'lane-band-h',true);
band(Z6,1378,1473,470,9,0.26,'lane-band-h',true);
band(Z6,628,722,520,6,0.16,'lane-band-h',true);
band(Z6,628,722,582,5,0.28,'lane-band-h',true);
band(Z6,628,722,655,7,0.42,'lane-band-h',true);
band(Z6,628,722,700,6,0.13,'lane-band-h',true);
band(Z6,628,722,745,6,0.12,'lane-band-h',true);
band(Z6,755,850,520,5,0.2,'lane-band-h',true);
band(Z6,755,850,590,6,0.45,'lane-band-h',true);
band(Z6,755,850,645,6,0.12,'lane-band-h',true);
band(Z6,880,975,540,6,0.45,'lane-band-h',true);
band(Z6,880,975,597,8,0.12,'lane-band-h',true);
band(Z6,1005,1100,545,5,0.5,'lane-band-h',true);
band(Z6,1125,1220,548,5,0.5,'lane-band-h',true);
band(Z6,1257,1355,545,5,0.45,'lane-band-h',true);
band(Z6,1257,1355,595,6,0.18,'lane-band-h',true);
band(Z6,1257,1355,640,6,0.09,'lane-band-h',true);
band(Z6,1378,1473,545,5,0.5,'lane-band-h',true);
band(Z6,1378,1473,600,6,0.14,'lane-band-h',true);
band(Z6,1378,1473,660,6,0.09,'lane-band-h',true);
shape('rect',{x:zx(Z6,608),y:zy(Z6,422),width:880/1.723,height:78/Z6.fy,fill:'none',stroke:'#d6cb00','stroke-width':1.6,'stroke-dasharray':'4 2'},'on-target-highlight-h');
gelArrow(Z6,620,525,'gel-arrow-h');
gelArrow(Z6,620,580,'gel-arrow-h');
gelArrow(Z6,618,650,'gel-arrow-h');
gelArrow(Z6,618,697,'gel-arrow-h');
gelArrow(Z6,618,747,'gel-arrow-h');
gelArrow(Z6,750,525,'gel-arrow-h');
gelArrow(Z6,750,590,'gel-arrow-h');
gelArrow(Z6,750,640,'gel-arrow-h');
gelArrow(Z6,873,538,'gel-arrow-h');
gelArrow(Z6,873,592,'gel-arrow-h');
gelArrow(Z6,998,547,'gel-arrow-h');
gelArrow(Z6,1117,548,'gel-arrow-h');
gelArrow(Z6,1250,548,'gel-arrow-h');
gelArrow(Z6,1250,597,'gel-arrow-h');
gelArrow(Z6,1372,545,'gel-arrow-h');
gelArrow(Z6,1372,593,'gel-arrow-h');
gelArrow(Z6,1372,643,'gel-arrow-h');
zt(Z6,70,222,383,'2000 bp',27,'gel-h-size-2000');
zt(Z6,70,220,503,'1000 bp',27,'gel-h-size-1000');
zt(Z6,100,228,617,'750 bp',27,'gel-h-size-750');
zt(Z6,100,230,750,'500 bp',27,'gel-h-size-500');

zt(Z6,138,592,925,'On-target activity:',33,'on-target-label-h',{fill:'#ed1c24'});
pctRow(onTargetH,pctColsBottom,940,'on-target-value-h');
zt(Z6,138,597,1040,'Off-target activity:',33,'off-target-label-h',{fill:'#ed1c24'});
pctRow(offTargetH,pctColsBottom,1053,'off-target-value-h');
</script>
</body>
</html>
